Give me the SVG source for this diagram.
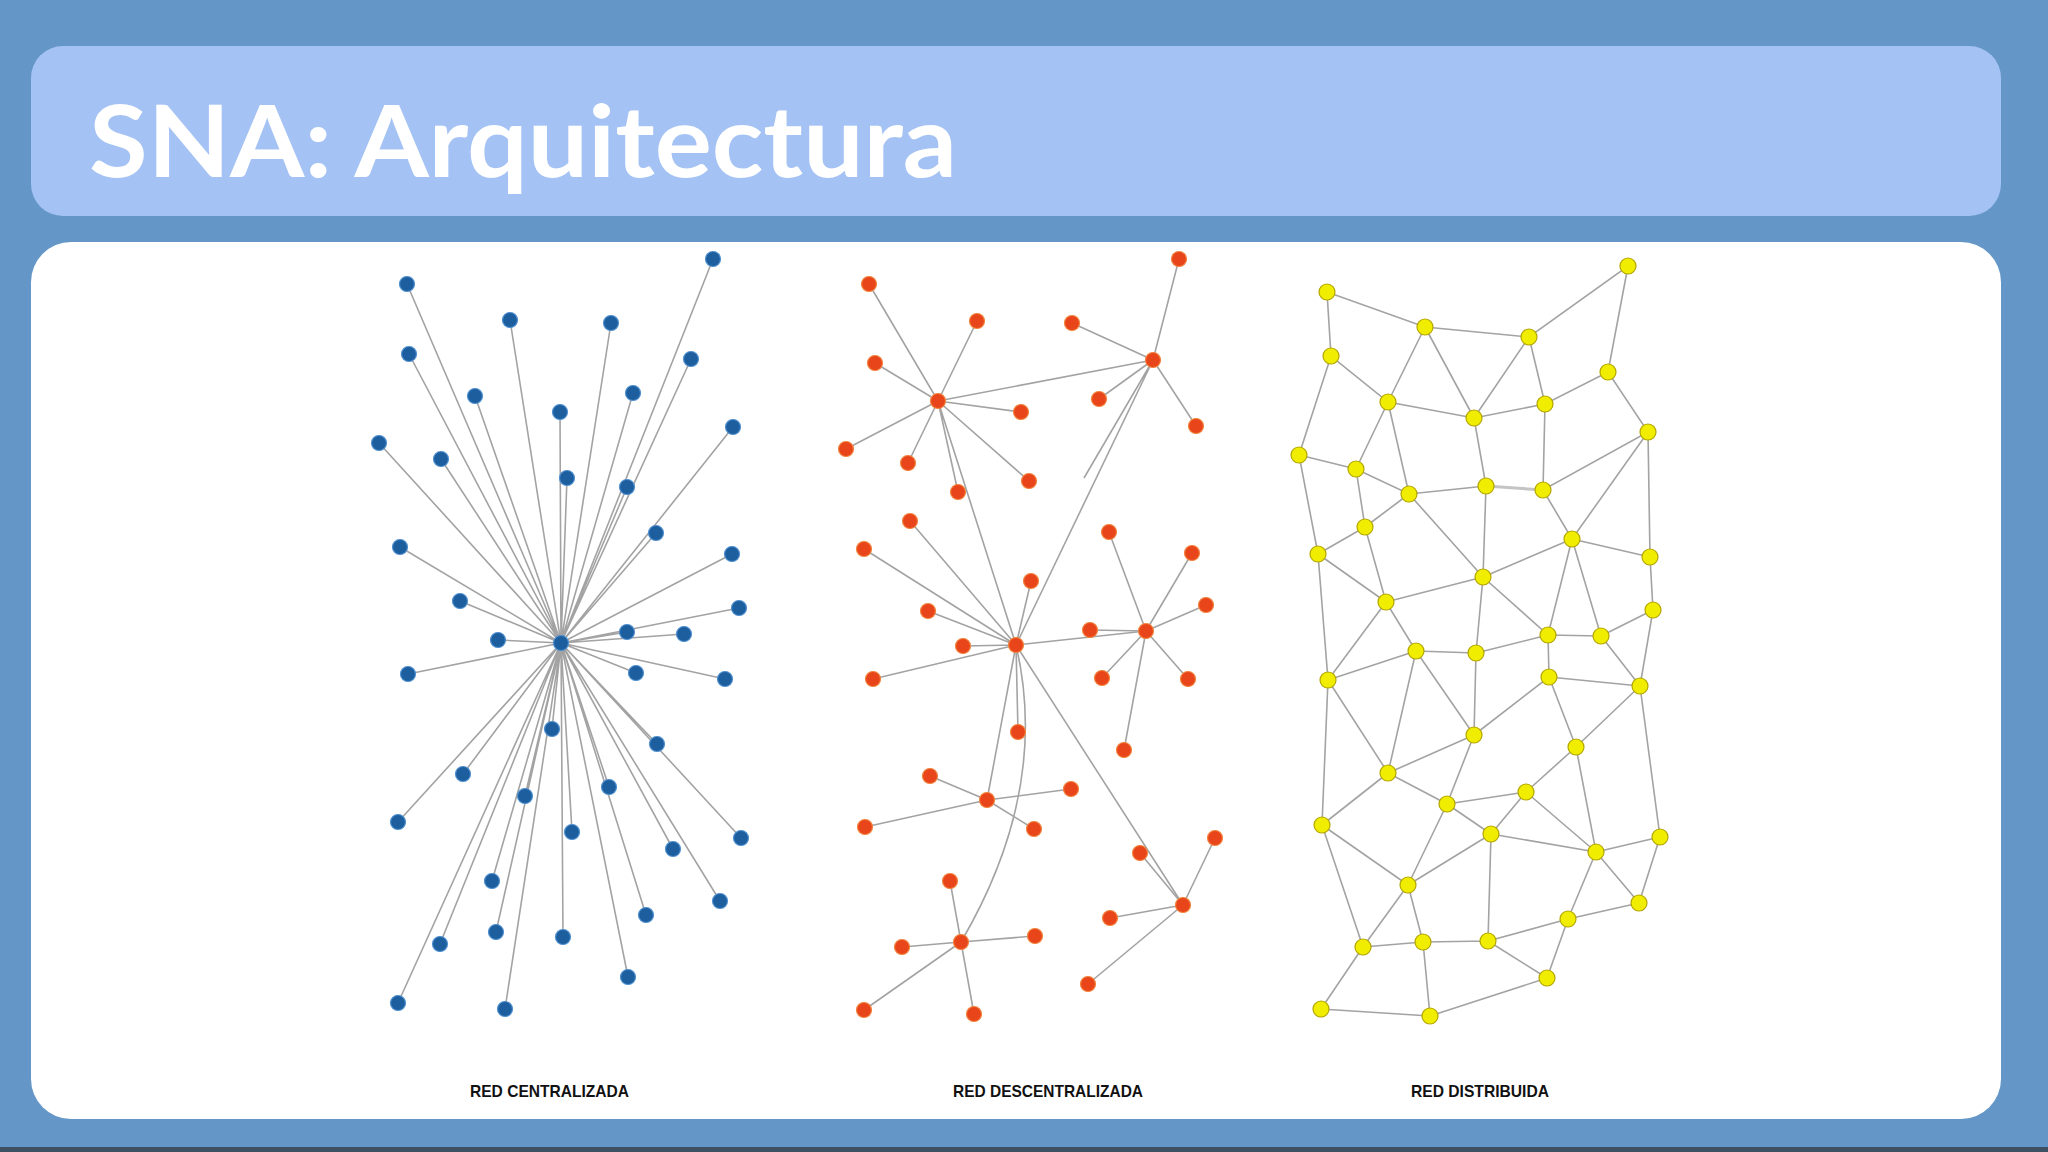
<svg xmlns="http://www.w3.org/2000/svg" width="2048" height="1152" viewBox="0 0 2048 1152">
<style>
.e{stroke:#a3a3a3;stroke-width:1.6;fill:none}
.b circle{fill:#1d5f9e;stroke:#4f8fcf;stroke-width:1.2}
.o circle{fill:#e8461a;stroke:#f2823e;stroke-width:1.2}
.y circle{fill:#f1ed00;stroke:#b3a600;stroke-width:1.2}
.lbl{font-family:"Liberation Sans",Arial,sans-serif;font-weight:bold;font-size:17px;fill:#111}
</style>
<rect x="0" y="0" width="2048" height="1152" fill="#6497c8"/>
<rect x="0" y="1147" width="2048" height="5" fill="#3d5163"/>
<g id="title-bar">
<rect x="31" y="46" width="1970" height="170" rx="32" fill="#a4c2f4"/>
<text x="89" y="177" font-family="Lato,'Liberation Sans',sans-serif" font-weight="bold" font-size="100" fill="#ffffff" textLength="868" lengthAdjust="spacingAndGlyphs">SNA: Arquitectura</text>
</g>
<g id="panel"><rect x="31" y="242" width="1970" height="877" rx="40" fill="#ffffff"/></g>

<g id="connectors-centralizada" class="e">
<path d="M561,643L713,259M561,643L407,284M561,643L510,320M561,643L611,323M561,643L409,354M561,643L691,359M561,643L475,396M561,643L633,393M561,643L560,412M561,643L733,427M561,643L379,443M561,643L441,459M561,643L567,478M561,643L627,487M561,643L656,533M561,643L400,547M561,643L732,554M561,643L460,601M561,643L739,608M561,643L627,632M561,643L684,634M561,643L498,640M561,643L408,674M561,643L636,673M561,643L725,679M561,643L552,729M561,643L657,744M561,643L463,774M561,643L525,796M561,643L609,787M561,643L398,822M561,643L572,832M561,643L741,838M561,643L673,849M561,643L492,881M561,643L720,901M561,643L646,915M561,643L496,932M561,643L440,944M561,643L563,937M561,643L628,977M561,643L398,1003M561,643L505,1009"/>
</g>
<g id="nodes-centralizada" class="b">
<g id="c0"><circle cx="561" cy="643" r="7.5"/></g>
<g id="c1"><circle cx="713" cy="259" r="7.5"/></g>
<g id="c2"><circle cx="407" cy="284" r="7.5"/></g>
<g id="c3"><circle cx="510" cy="320" r="7.5"/></g>
<g id="c4"><circle cx="611" cy="323" r="7.5"/></g>
<g id="c5"><circle cx="409" cy="354" r="7.5"/></g>
<g id="c6"><circle cx="691" cy="359" r="7.5"/></g>
<g id="c7"><circle cx="475" cy="396" r="7.5"/></g>
<g id="c8"><circle cx="633" cy="393" r="7.5"/></g>
<g id="c9"><circle cx="560" cy="412" r="7.5"/></g>
<g id="c10"><circle cx="733" cy="427" r="7.5"/></g>
<g id="c11"><circle cx="379" cy="443" r="7.5"/></g>
<g id="c12"><circle cx="441" cy="459" r="7.5"/></g>
<g id="c13"><circle cx="567" cy="478" r="7.5"/></g>
<g id="c14"><circle cx="627" cy="487" r="7.5"/></g>
<g id="c15"><circle cx="656" cy="533" r="7.5"/></g>
<g id="c16"><circle cx="400" cy="547" r="7.5"/></g>
<g id="c17"><circle cx="732" cy="554" r="7.5"/></g>
<g id="c18"><circle cx="460" cy="601" r="7.5"/></g>
<g id="c19"><circle cx="739" cy="608" r="7.5"/></g>
<g id="c20"><circle cx="627" cy="632" r="7.5"/></g>
<g id="c21"><circle cx="684" cy="634" r="7.5"/></g>
<g id="c22"><circle cx="498" cy="640" r="7.5"/></g>
<g id="c23"><circle cx="408" cy="674" r="7.5"/></g>
<g id="c24"><circle cx="636" cy="673" r="7.5"/></g>
<g id="c25"><circle cx="725" cy="679" r="7.5"/></g>
<g id="c26"><circle cx="552" cy="729" r="7.5"/></g>
<g id="c27"><circle cx="657" cy="744" r="7.5"/></g>
<g id="c28"><circle cx="463" cy="774" r="7.5"/></g>
<g id="c29"><circle cx="525" cy="796" r="7.5"/></g>
<g id="c30"><circle cx="609" cy="787" r="7.5"/></g>
<g id="c31"><circle cx="398" cy="822" r="7.5"/></g>
<g id="c32"><circle cx="572" cy="832" r="7.5"/></g>
<g id="c33"><circle cx="741" cy="838" r="7.5"/></g>
<g id="c34"><circle cx="673" cy="849" r="7.5"/></g>
<g id="c35"><circle cx="492" cy="881" r="7.5"/></g>
<g id="c36"><circle cx="720" cy="901" r="7.5"/></g>
<g id="c37"><circle cx="646" cy="915" r="7.5"/></g>
<g id="c38"><circle cx="496" cy="932" r="7.5"/></g>
<g id="c39"><circle cx="440" cy="944" r="7.5"/></g>
<g id="c40"><circle cx="563" cy="937" r="7.5"/></g>
<g id="c41"><circle cx="628" cy="977" r="7.5"/></g>
<g id="c42"><circle cx="398" cy="1003" r="7.5"/></g>
<g id="c43"><circle cx="505" cy="1009" r="7.5"/></g>
</g>

<g id="connectors-descentralizada" class="e">
<path d="M938,401L869,284M938,401L977,321M938,401L875,363M938,401L1021,412M938,401L846,449M938,401L908,463M938,401L1029,481M938,401L958,492M938,401L1153,360M938,401L1016,645"/>
<path d="M1153,360L1179,259M1153,360L1072,323M1153,360L1099,399M1153,360L1196,426M1153,360L1016,645M1153,360L1084,478"/>
<path d="M1016,645L910,521M1016,645L864,549M1016,645L1031,581M1016,645L928,611M1016,645L963,646M1016,645L873,679M1016,645L1018,732M1016,645L1146,631M1016,645L987,800M1016,645L1183,905"/>
<path d="M1016,645Q1050,790 961,942"/>
<path d="M1146,631L1109,532M1146,631L1192,553M1146,631L1206,605M1146,631L1090,630M1146,631L1102,678M1146,631L1188,679M1146,631L1124,750"/>
<path d="M987,800L930,776M987,800L1071,789M987,800L865,827M987,800L1034,829"/>
<path d="M1183,905L1140,853M1183,905L1215,838M1183,905L1110,918M1183,905L1088,984"/>
<path d="M961,942L950,881M961,942L902,947M961,942L1035,936M961,942L864,1010M961,942L974,1014"/>
</g>
<g id="nodes-descentralizada" class="o">
<g id="dA"><circle cx="1153" cy="360" r="7.5"/></g>
<g id="dB"><circle cx="938" cy="401" r="7.5"/></g>
<g id="dC"><circle cx="1146" cy="631" r="7.5"/></g>
<g id="dD"><circle cx="1016" cy="645" r="7.5"/></g>
<g id="dE"><circle cx="987" cy="800" r="7.5"/></g>
<g id="dF"><circle cx="1183" cy="905" r="7.5"/></g>
<g id="dG"><circle cx="961" cy="942" r="7.5"/></g>
<g id="d1"><circle cx="869" cy="284" r="7.5"/></g>
<g id="d2"><circle cx="977" cy="321" r="7.5"/></g>
<g id="d3"><circle cx="875" cy="363" r="7.5"/></g>
<g id="d4"><circle cx="1021" cy="412" r="7.5"/></g>
<g id="d5"><circle cx="846" cy="449" r="7.5"/></g>
<g id="d6"><circle cx="908" cy="463" r="7.5"/></g>
<g id="d7"><circle cx="1029" cy="481" r="7.5"/></g>
<g id="d8"><circle cx="958" cy="492" r="7.5"/></g>
<g id="d9"><circle cx="1179" cy="259" r="7.5"/></g>
<g id="d10"><circle cx="1072" cy="323" r="7.5"/></g>
<g id="d11"><circle cx="1099" cy="399" r="7.5"/></g>
<g id="d12"><circle cx="1196" cy="426" r="7.5"/></g>
<g id="d13"><circle cx="910" cy="521" r="7.5"/></g>
<g id="d14"><circle cx="864" cy="549" r="7.5"/></g>
<g id="d15"><circle cx="1031" cy="581" r="7.5"/></g>
<g id="d16"><circle cx="928" cy="611" r="7.5"/></g>
<g id="d17"><circle cx="963" cy="646" r="7.5"/></g>
<g id="d18"><circle cx="873" cy="679" r="7.5"/></g>
<g id="d19"><circle cx="1018" cy="732" r="7.5"/></g>
<g id="d20"><circle cx="1109" cy="532" r="7.5"/></g>
<g id="d21"><circle cx="1192" cy="553" r="7.5"/></g>
<g id="d22"><circle cx="1206" cy="605" r="7.5"/></g>
<g id="d23"><circle cx="1090" cy="630" r="7.5"/></g>
<g id="d24"><circle cx="1102" cy="678" r="7.5"/></g>
<g id="d25"><circle cx="1188" cy="679" r="7.5"/></g>
<g id="d26"><circle cx="1124" cy="750" r="7.5"/></g>
<g id="d27"><circle cx="930" cy="776" r="7.5"/></g>
<g id="d28"><circle cx="1071" cy="789" r="7.5"/></g>
<g id="d29"><circle cx="865" cy="827" r="7.5"/></g>
<g id="d30"><circle cx="1034" cy="829" r="7.5"/></g>
<g id="d31"><circle cx="1140" cy="853" r="7.5"/></g>
<g id="d32"><circle cx="1215" cy="838" r="7.5"/></g>
<g id="d33"><circle cx="1110" cy="918" r="7.5"/></g>
<g id="d34"><circle cx="1088" cy="984" r="7.5"/></g>
<g id="d35"><circle cx="950" cy="881" r="7.5"/></g>
<g id="d36"><circle cx="902" cy="947" r="7.5"/></g>
<g id="d37"><circle cx="1035" cy="936" r="7.5"/></g>
<g id="d38"><circle cx="864" cy="1010" r="7.5"/></g>
<g id="d39"><circle cx="974" cy="1014" r="7.5"/></g>
</g>

<g id="connectors-distribuida" class="e">
<path d="M1327,292L1425,327L1529,337L1628,266L1608,372M1327,292L1331,356L1388,402L1474,418L1545,404L1608,372L1648,432L1543,490L1486,486L1409,494L1356,469L1299,455L1331,356"/>
<path d="M1425,327L1388,402M1425,327L1474,418M1529,337L1474,418M1529,337L1545,404M1545,404L1543,490M1474,418L1486,486M1388,402L1356,469M1388,402L1409,494M1299,455L1318,554M1356,469L1365,527M1648,432L1572,539M1648,432L1650,557M1543,490L1572,539M1409,494L1365,527M1409,494L1483,577M1486,486L1483,577M1365,527L1318,554M1365,527L1386,602M1318,554L1386,602M1483,577L1572,539M1572,539L1650,557M1650,557L1653,610M1572,539L1548,635M1572,539L1601,636M1653,610L1601,636M1386,602L1483,577M1483,577L1548,635M1483,577L1476,653M1318,554L1328,680M1386,602L1328,680M1386,602L1416,651M1653,610L1640,686"/>
<path d="M1548,635L1601,636M1548,635L1476,653M1548,635L1549,677M1601,636L1640,686M1416,651L1476,653M1416,651L1328,680M1416,651L1388,773M1416,651L1474,735M1476,653L1474,735M1549,677L1640,686M1549,677L1474,735M1549,677L1576,747M1640,686L1576,747M1640,686L1660,837M1328,680L1388,773M1328,680L1322,825M1474,735L1388,773M1474,735L1447,804M1576,747L1526,792M1576,747L1596,852M1388,773L1447,804M1388,773L1322,825M1526,792L1447,804M1526,792L1491,834M1526,792L1596,852M1447,804L1491,834M1447,804L1408,885M1322,825L1408,885M1322,825L1363,947M1491,834L1596,852M1491,834L1408,885M1491,834L1488,941M1660,837L1596,852M1660,837L1639,903M1596,852L1639,903M1596,852L1568,919M1408,885L1363,947M1408,885L1423,942M1639,903L1568,919M1568,919L1488,941M1568,919L1547,978M1363,947L1423,942M1423,942L1488,941M1488,941L1547,978M1363,947L1321,1009M1423,942L1430,1016M1321,1009L1430,1016M1430,1016L1547,978"/>
<path d="M1486,486L1543,490" style="stroke-width:3;stroke:#c4c4c4"/>
</g>
<g id="nodes-distribuida" class="y">
<g id="y1"><circle cx="1628" cy="266" r="8"/></g>
<g id="y2"><circle cx="1327" cy="292" r="8"/></g>
<g id="y3"><circle cx="1425" cy="327" r="8"/></g>
<g id="y4"><circle cx="1529" cy="337" r="8"/></g>
<g id="y5"><circle cx="1331" cy="356" r="8"/></g>
<g id="y6"><circle cx="1608" cy="372" r="8"/></g>
<g id="y7"><circle cx="1388" cy="402" r="8"/></g>
<g id="y8"><circle cx="1545" cy="404" r="8"/></g>
<g id="y9"><circle cx="1474" cy="418" r="8"/></g>
<g id="y10"><circle cx="1648" cy="432" r="8"/></g>
<g id="y11"><circle cx="1299" cy="455" r="8"/></g>
<g id="y12"><circle cx="1356" cy="469" r="8"/></g>
<g id="y13"><circle cx="1486" cy="486" r="8"/></g>
<g id="y14"><circle cx="1543" cy="490" r="8"/></g>
<g id="y15"><circle cx="1409" cy="494" r="8"/></g>
<g id="y16"><circle cx="1365" cy="527" r="8"/></g>
<g id="y17"><circle cx="1572" cy="539" r="8"/></g>
<g id="y18"><circle cx="1318" cy="554" r="8"/></g>
<g id="y19"><circle cx="1650" cy="557" r="8"/></g>
<g id="y20"><circle cx="1483" cy="577" r="8"/></g>
<g id="y21"><circle cx="1386" cy="602" r="8"/></g>
<g id="y22"><circle cx="1653" cy="610" r="8"/></g>
<g id="y23"><circle cx="1548" cy="635" r="8"/></g>
<g id="y24"><circle cx="1601" cy="636" r="8"/></g>
<g id="y25"><circle cx="1416" cy="651" r="8"/></g>
<g id="y26"><circle cx="1476" cy="653" r="8"/></g>
<g id="y27"><circle cx="1328" cy="680" r="8"/></g>
<g id="y28"><circle cx="1549" cy="677" r="8"/></g>
<g id="y29"><circle cx="1640" cy="686" r="8"/></g>
<g id="y30"><circle cx="1474" cy="735" r="8"/></g>
<g id="y31"><circle cx="1576" cy="747" r="8"/></g>
<g id="y32"><circle cx="1388" cy="773" r="8"/></g>
<g id="y33"><circle cx="1526" cy="792" r="8"/></g>
<g id="y34"><circle cx="1447" cy="804" r="8"/></g>
<g id="y35"><circle cx="1322" cy="825" r="8"/></g>
<g id="y36"><circle cx="1491" cy="834" r="8"/></g>
<g id="y37"><circle cx="1660" cy="837" r="8"/></g>
<g id="y38"><circle cx="1596" cy="852" r="8"/></g>
<g id="y39"><circle cx="1408" cy="885" r="8"/></g>
<g id="y40"><circle cx="1639" cy="903" r="8"/></g>
<g id="y41"><circle cx="1568" cy="919" r="8"/></g>
<g id="y42"><circle cx="1363" cy="947" r="8"/></g>
<g id="y43"><circle cx="1423" cy="942" r="8"/></g>
<g id="y44"><circle cx="1488" cy="941" r="8"/></g>
<g id="y45"><circle cx="1547" cy="978" r="8"/></g>
<g id="y46"><circle cx="1321" cy="1009" r="8"/></g>
<g id="y47"><circle cx="1430" cy="1016" r="8"/></g>
</g>

<g id="labels">
<text class="lbl" x="470" y="1097" textLength="159" lengthAdjust="spacingAndGlyphs">RED CENTRALIZADA</text>
<text class="lbl" x="953" y="1097" textLength="190" lengthAdjust="spacingAndGlyphs">RED DESCENTRALIZADA</text>
<text class="lbl" x="1411" y="1097" textLength="138" lengthAdjust="spacingAndGlyphs">RED DISTRIBUIDA</text>
</g>
</svg>
